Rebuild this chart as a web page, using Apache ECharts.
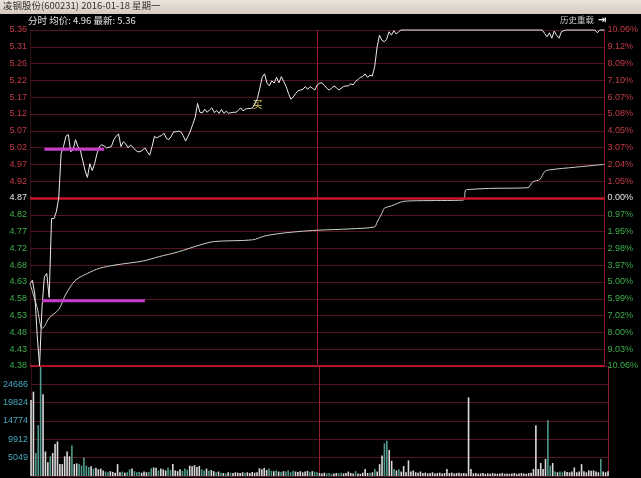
<!DOCTYPE html>
<html>
<head>
<meta charset="utf-8">
<title>凌钢股份 分时</title>
<script src="https://cdn.jsdelivr.net/npm/echarts@6/dist/echarts.min.js"></script>
<style>
  html, body { margin: 0; padding: 0; background: #000; }
  #main { width: 641px; height: 478px; }
</style>
</head>
<body>
<div id="main"></div>
<script>
// 分时数据 (分钟序号 0 = 9:30, 120 = 11:30/13:00, 240 = 15:00)
var prevClose = 4.87;

var priceMinutes = [
  0, 1, 2, 3, 4, 5, 6, 7, 8, 9, 10, 11, 12, 13, 14, 15, 16, 17, 18, 19,
  20, 21, 22, 23, 24, 25, 26, 27, 28, 29, 30, 31, 32, 33, 34, 35, 36, 37, 38, 39,
  40, 41, 42, 43, 44, 45, 46, 47, 48, 49, 50, 51, 52, 53, 54, 55, 56, 57, 58, 59,
  60, 61, 62, 63, 64, 65, 66, 67, 68, 69, 70, 71, 72, 73, 74, 75, 76, 77, 78, 79,
  80, 81, 82, 83, 84, 85, 86, 87, 88, 89, 90, 91, 92, 93, 94, 95, 96, 97, 98, 99,
  100, 101, 102, 103, 104, 105, 106, 107, 108, 109, 110, 111, 112, 113, 114, 115, 116, 117, 118, 119,
  120, 121, 122, 123, 124, 125, 126, 127, 128, 129, 130, 131, 132, 133, 134, 135, 136, 137, 138, 139,
  140, 141, 142, 143, 144, 145, 146, 147, 148, 149, 150, 151, 152, 153, 154, 155,
  214, 215, 216, 217, 218, 219, 220, 221, 222, 223, 224, 236, 237, 238, 240
];
var priceValues = [
  4.62, 4.63, 4.59, 4.47, 4.38, 4.55, 4.64, 4.65, 4.58, 4.81, 4.81, 4.83, 4.87, 5.00, 5.02, 5.05, 5.055, 5.005, 5.01, 5.04,
  5.02, 5.01, 4.98, 4.95, 4.93, 4.97, 4.95, 4.97, 5.00, 5.02, 5.025, 5.022, 5.016, 5.018, 5.02, 5.04, 5.05, 5.057, 5.02, 5.034,
  5.028, 5.016, 5.025, 5.018, 5.01, 5.005, 5.005, 5.01, 5.016, 5.005, 4.995, 5.02, 5.05, 5.045, 5.05, 5.052, 5.059, 5.044, 5.04, 5.05,
  5.063, 5.063, 5.065, 5.063, 5.052, 5.036, 5.05, 5.065, 5.085, 5.105, 5.146, 5.12, 5.118, 5.129, 5.12, 5.127, 5.133, 5.119, 5.125, 5.117,
  5.128, 5.117, 5.123, 5.117, 5.119, 5.12, 5.12, 5.125, 5.133, 5.124, 5.129, 5.131, 5.131, 5.133, 5.146, 5.16, 5.19, 5.222, 5.232, 5.205,
  5.197, 5.212, 5.205, 5.222, 5.206, 5.224, 5.21, 5.195, 5.175, 5.158, 5.165, 5.175, 5.183, 5.185, 5.187, 5.195, 5.187, 5.195, 5.19, 5.185,
  5.2, 5.205, 5.206, 5.198, 5.19, 5.185, 5.19, 5.197, 5.192, 5.185, 5.19, 5.195, 5.197, 5.197, 5.203, 5.2, 5.21, 5.215, 5.222, 5.224,
  5.232, 5.222, 5.228, 5.226, 5.253, 5.31, 5.345, 5.33, 5.326, 5.333, 5.355, 5.345, 5.358, 5.348, 5.355, 5.36,
  5.36, 5.35, 5.34, 5.352, 5.336, 5.357, 5.345, 5.336, 5.355, 5.358, 5.36, 5.36, 5.352, 5.36, 5.36
];

var avgMinutes = [0, 3, 5, 6, 8, 12, 15, 19, 24, 29, 36, 47, 54, 62, 71, 77, 93, 98, 105, 112,
  120, 134, 144, 145, 147, 148, 151, 156, 162, 181, 182, 184, 192, 208, 210, 213, 215, 217, 228, 240];
var avgValues = [4.62, 4.55, 4.49, 4.495, 4.52, 4.545, 4.59, 4.63, 4.65, 4.665, 4.675, 4.686, 4.699, 4.713, 4.733, 4.743, 4.748, 4.759, 4.767, 4.772,
  4.776, 4.78, 4.786, 4.80, 4.825, 4.84, 4.847, 4.86, 4.862, 4.864, 4.893, 4.895, 4.898, 4.90, 4.917, 4.924, 4.947, 4.952, 4.96, 4.968];

// 成交量 (每分钟)
var volumes = [
  20500, 22700, 6200, 13700, 29400, 22000, 6600, 3700, 5300, 6200,
  8600, 9300, 3200, 3200, 5300, 6600, 5300, 8200, 3200, 3400,
  3200, 2800, 5000, 2800, 2400, 2600, 2000, 2200, 1800, 2000,
  1500, 1200, 1000, 1300, 1100, 900, 3200, 1000, 1200, 900,
  1000, 1800, 2000, 1300, 1000, 1100, 900, 1200, 1000, 1100,
  2100, 2300, 2200, 1500, 2000, 1800, 1500, 2300, 1600, 3200,
  1500, 1300, 1800, 1400, 2000, 1700, 2800, 2600, 2900, 2400,
  2700, 1800, 1500, 2000, 1400, 1600, 1300, 1000, 1200, 900,
  800, 700, 1000, 900, 800, 1000, 900, 800, 1000, 900,
  1000, 800, 1100, 900, 1000, 2100, 1800, 2200, 1600, 2000,
  1400, 1300, 1500, 1200, 1100, 1300, 1200, 1500, 1000, 1400,
  1200, 1100, 1300, 1000, 1200, 1400, 1100, 1300, 1200, 1000,
  800, 700, 900, 700, 800, 600, 700, 800, 700, 900,
  700, 800, 1200, 800, 700, 1300, 700, 600, 900, 1900,
  800, 900, 1000, 1900, 1200, 3200, 5500, 8800, 9500, 7000,
  4100, 1900, 1500, 1800, 1200, 2700, 1000, 4200, 1200, 1500,
  1000, 900, 1200, 800, 900, 700, 800, 1000, 700, 800,
  900, 700, 800, 1900, 800, 900, 700, 800, 900, 700,
  800, 700, 21200, 1900, 700, 800, 600, 700, 800, 600,
  700, 600, 800, 700, 600, 700, 800, 600, 700, 600,
  700, 800, 600, 700, 800, 700, 600, 800, 900, 1900,
  13700, 1900, 3500, 1900, 4600, 15100, 2800, 3500, 1200, 1000,
  1200, 1000, 1300, 1100, 1000, 1200, 2300, 1000, 1200, 3200,
  1300, 1000, 1500, 1400, 1500, 1200, 1000, 4600, 1200, 1000, 1300
];

// 刻度文字 (从上到下)
var priceTicks = ['5.36', '5.31', '5.26', '5.22', '5.17', '5.12', '5.07', '5.02', '4.97', '4.92', '4.87',
  '4.82', '4.77', '4.72', '4.68', '4.63', '4.58', '4.53', '4.48', '4.43', '4.38'];
var pctTicks = ['10.06%', '9.12%', '8.09%', '7.10%', '6.07%', '5.08%', '4.05%', '3.07%', '2.04%', '1.05%', '0.00%',
  '0.97%', '1.95%', '2.98%', '3.97%', '5.00%', '5.99%', '7.02%', '8.00%', '9.03%', '10.06%'];
var volTicks = ['24686', '19824', '14774', '9912', '5049'];

// 画线 (紫色水平线) 和 买点
var drawUpMinutes = [6, 31];
var drawUpPrice = 5.012;
var drawLowMinutes = [5, 48];
var drawLowPrice = 4.57;
var buyMinute = 95;
var buyPrice = 5.144;

var myChart = echarts.init(document.getElementById('main'));

function pairs(xs, ys) {
  var out = [];
  for (var i = 0; i < xs.length; i++) out.push([xs[i], ys[i]]);
  return out;
}
function priceAt(m) {
  var p = priceValues[0];
  for (var i = 0; i < priceMinutes.length; i++) {
    if (priceMinutes[i] <= m) p = priceValues[i];
  }
  return p;
}
function tickColor(idxFromTop) {
  if (idxFromTop < 10) return '#c23a48';
  if (idxFromTop === 10) return '#e6e6e6';
  return '#3fae4a';
}

var volData = [];
for (var m = 0; m < volumes.length; m++) {
  var down = m > 0 && priceAt(m) < priceAt(m - 1);
  volData.push({
    value: [m, volumes[m]],
    itemStyle: { color: down ? '#4f9a8c' : '#dadada' }
  });
}

var gridLine = '#531422';
var volMaxTicks = 6;
var volMax = Number(volTicks[0]) * volMaxTicks / (volMaxTicks - 1);

var option = {
  backgroundColor: '#000',
  animation: false,
  textStyle: { fontFamily: 'Liberation Sans, Arial, sans-serif' },
  grid: [
    { left: 30, right: 33, top: 30, height: 336 },
    { left: 30, right: 33, top: 366, height: 110 }
  ],
  graphic: [
    {
      type: 'rect', left: 0, top: 0, z: 10,
      shape: { width: 641, height: 14 },
      style: {
        fill: new echarts.graphic.LinearGradient(0, 0, 0, 1, [
          { offset: 0, color: '#ece4dc' }, { offset: 1, color: '#d6cac0' }
        ])
      }
    },
    {
      type: 'text', left: 3, top: 1, z: 11,
      style: { text: '凌钢股份(600231) 2016-01-18 星期一', fill: '#333', font: '9.5px "Noto Sans CJK SC", sans-serif' }
    },
    {
      type: 'text', left: 28, top: 16, z: 11,
      style: { text: '分时 均价: 4.96 最新: 5.36', fill: '#e0e0e0', font: '9.5px "Noto Sans CJK SC", sans-serif' }
    },
    {
      type: 'text', left: 560, top: 16, z: 11,
      style: { text: '历史重载', fill: '#c8c8c8', font: '8.5px "Noto Sans CJK SC", sans-serif' }
    },
    {
      type: 'text', left: 598, top: 15, z: 11,
      style: { text: '⇥', fill: '#f0f0f0', font: 'bold 10px "DejaVu Sans", sans-serif' }
    }
  ],
  xAxis: [
    {
      type: 'value', gridIndex: 0, min: 0, max: 240, interval: 120,
      axisLine: { show: false }, axisTick: { show: false }, axisLabel: { show: false },
      splitLine: { show: true, lineStyle: { color: ['#3a0c16', '#961c32', '#8c1a2e'], width: 1 } }
    },
    {
      type: 'value', gridIndex: 1, min: 0, max: 240, interval: 120,
      axisLine: { show: false }, axisTick: { show: false }, axisLabel: { show: false },
      splitLine: { show: true, lineStyle: { color: ['#3a0c16', '#961c32', '#8c1a2e'], width: 1 } }
    }
  ],
  yAxis: [
    { // 价格数据轴
      type: 'value', gridIndex: 0, min: 4.38, max: 5.36,
      show: false, splitLine: { show: false }
    },
    { // 左侧价格刻度
      type: 'value', gridIndex: 0, min: 0, max: 20, interval: 1, position: 'left',
      axisLine: { show: false }, axisTick: { show: false },
      axisLabel: {
        fontSize: 9, margin: 3,
        formatter: function (v) { return priceTicks[20 - v]; },
        color: function (v) { return tickColor(20 - Number(v)); }
      },
      splitLine: { show: true, lineStyle: { color: gridLine, width: 1 } }
    },
    { // 右侧涨跌幅刻度
      type: 'value', gridIndex: 0, min: 0, max: 20, interval: 1, position: 'right',
      axisLine: { show: false }, axisTick: { show: false },
      axisLabel: {
        fontSize: 9, margin: 3,
        formatter: function (v) { return pctTicks[20 - v]; },
        color: function (v) { return tickColor(20 - Number(v)); }
      },
      splitLine: { show: false }
    },
    { // 成交量数据轴
      type: 'value', gridIndex: 1, min: 0, max: volMax,
      show: false, splitLine: { show: false }
    },
    { // 成交量刻度
      type: 'value', gridIndex: 1, min: 0, max: volMaxTicks, interval: 1, position: 'left',
      axisLine: { show: false }, axisTick: { show: false },
      axisLabel: {
        fontSize: 9, margin: 3, color: '#46a9bc',
        formatter: function (v) {
          if (v <= 0 || v >= volMaxTicks) return '';
          return volTicks[volMaxTicks - 1 - v];
        }
      },
      splitLine: { show: true, lineStyle: { color: gridLine, width: 1 } }
    }
  ],
  series: [
    {
      name: '价格', type: 'line', xAxisIndex: 0, yAxisIndex: 0,
      data: pairs(priceMinutes, priceValues),
      symbol: 'none', clip: false, z: 5,
      lineStyle: { color: '#ececec', width: 1 },
      markLine: {
        silent: true, symbol: 'none', label: { show: false },
        data: [
          { yAxis: prevClose, lineStyle: { color: '#c8142c', width: 2.5, type: 'solid' } },
          { yAxis: 4.38, lineStyle: { color: '#b0142a', width: 2, type: 'solid' } }
        ]
      },
      markPoint: {
        silent: true, symbol: 'circle', symbolSize: 1,
        itemStyle: { color: 'rgba(0,0,0,0)' },
        label: { show: true, formatter: '买', color: '#d6c45a', fontSize: 10, fontFamily: 'Noto Sans CJK SC' },
        data: [{ coord: [buyMinute, buyPrice] }]
      }
    },
    {
      name: '均价', type: 'line', xAxisIndex: 0, yAxisIndex: 0,
      data: pairs(avgMinutes, avgValues),
      symbol: 'none', smooth: 0.3, clip: false, z: 4,
      lineStyle: { color: '#cfcfc4', width: 1 }
    },
    {
      name: '画线1', type: 'line', xAxisIndex: 0, yAxisIndex: 0,
      data: pairs(drawUpMinutes, [drawUpPrice, drawUpPrice]),
      symbol: 'none', z: 6,
      lineStyle: { color: '#c43ccc', width: 3 }
    },
    {
      name: '画线2', type: 'line', xAxisIndex: 0, yAxisIndex: 0,
      data: pairs(drawLowMinutes, [drawLowPrice, drawLowPrice]),
      symbol: 'none', z: 6,
      lineStyle: { color: '#c43ccc', width: 3 }
    },
    {
      name: '成交量', type: 'bar', xAxisIndex: 1, yAxisIndex: 3,
      data: volData, barWidth: 1.6
    }
  ]
};

myChart.setOption(option);
window.addEventListener('resize', function () {
  myChart.resize();
});
</script>
</body>
</html>
